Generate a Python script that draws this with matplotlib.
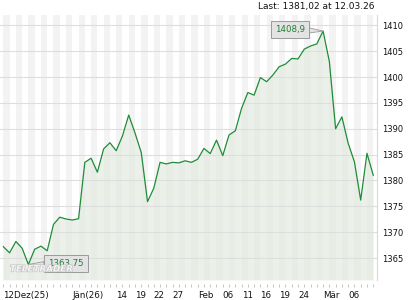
import matplotlib
matplotlib.use("Agg")
import matplotlib.pyplot as plt
import matplotlib.patheffects as pe

# ================================
# data (daily closes, 12.12.25 - 12.03.26)
# ================================
closes = [
    1367.2, 1366.0, 1368.2, 1366.9, 1363.75, 1366.7, 1367.3, 1366.4, 1371.5, 1372.9,
    1372.55, 1372.35, 1372.6, 1383.5, 1384.3, 1381.6, 1386.1, 1387.3, 1385.75, 1388.6,
    1392.65, 1389.2, 1385.4, 1375.9, 1378.5, 1383.5, 1383.2, 1383.5, 1383.4, 1383.8,
    1383.5, 1384.1, 1386.2, 1385.2, 1387.8, 1384.8, 1388.8, 1389.6, 1393.95, 1397.0,
    1396.5, 1399.9, 1399.1, 1400.4, 1402.0, 1402.5, 1403.6, 1403.5, 1405.4, 1406.0,
    1406.4, 1408.9, 1403.0, 1390.0, 1392.3, 1387.2, 1383.6, 1376.2, 1385.25, 1381.02,
]
label_pos = [0, 11, 18, 21, 24, 27, 31, 35, 38, 41, 44, 47, 51, 55]
label_txt = ["12Dez(25)", "Jän(26)", "14", "19", "22", "27", "Feb",
             "06", "11", "16", "19", "24", "Mär", "06"]
y_ticks = [1365, 1370, 1375, 1380, 1385, 1390, 1395, 1400, 1405, 1410]
last_text = "Last: 1381,02 at 12.03.26"
min_label = "1363,75"
max_label = "1408,9"

LINE = "#1f8c38"
TXT_GREEN = "#1d7f33"

x = list(range(len(closes)))

fig = plt.figure(figsize=(4.2, 3.0), dpi=100)
ax = fig.add_axes([0.0, 20 / 300, 377 / 420, 265 / 300])

# stripes
for i in range(0, len(closes), 2):
    ax.axvspan(i, i + 1, color="#f3f3f3", lw=0, zorder=0)

# fill + grid + line
ax.fill_between(x, closes, 1360.75, color="#dfe8dc", alpha=0.6, lw=0, zorder=1)
for v in y_ticks:
    ax.axhline(v, color="#dedede", lw=0.8, zorder=2)
ax.plot(x, closes, color=LINE, lw=0.9, zorder=3)

ax.set_xlim(-0.53, 59.6)
ax.set_ylim(1360.75, 1412.0)

# axes styling
for s in ["top", "left"]:
    ax.spines[s].set_visible(False)
ax.spines["right"].set_color("#d8d8d8")
ax.spines["right"].set_linewidth(0.8)
ax.spines["bottom"].set_position(("outward", 3))
ax.spines["bottom"].set_color("none")

ax.yaxis.tick_right()
ax.set_yticks(y_ticks)
ax.set_yticklabels([str(v) for v in y_ticks], fontsize=6)
ax.tick_params(axis="y", length=0, pad=4, colors="#111111")

ax.set_xticks(label_pos)
ax.set_xticklabels(label_txt, fontsize=6.3, ha="left")
ax.set_xticks(x, minor=True)
ax.tick_params(axis="x", which="both", length=2, width=0.6, color="#bbbbbb",
               labelcolor="#111111", pad=3)

# header text
fig.text(374 / 420, 1 - 7 / 300, last_text, ha="right", va="center",
         fontsize=6.5, color="#111111")

# min / max callouts
imin = closes.index(min(closes))
imax = closes.index(max(closes))
box = dict(boxstyle="square,pad=0.45", fc="#e3e3e3", ec="#9a9a9a", lw=0.7)
arrow = dict(arrowstyle="wedge,tail_width=0.6", fc="#e3e3e3", ec="#9a9a9a", lw=0.6,
             shrinkA=0, shrinkB=0)
ax.annotate(min_label, (imin, closes[imin]), xytext=(27, 0.5), textcoords="offset points",
            ha="center", va="center", fontsize=6.2, color=TXT_GREEN, bbox=box,
            arrowprops=arrow, zorder=4)
ax.annotate(max_label, (imax, closes[imax]), xytext=(-24, 1), textcoords="offset points",
            ha="center", va="center", fontsize=6.2, color=TXT_GREEN, bbox=box,
            arrowprops=arrow, zorder=4)

# watermark (sits over the min callout like in the original)
ax.text(10 / 377, 11 / 265, "TELETRADER", transform=ax.transAxes,
        fontsize=6.3, fontweight="bold", fontstyle="italic", color="#f4f4f4",
        va="center", ha="left", zorder=5,
        path_effects=[pe.withStroke(linewidth=1.0, foreground="#c4c4c4")])

fig.savefig("out.png", dpi=100)
plt.close(fig)
